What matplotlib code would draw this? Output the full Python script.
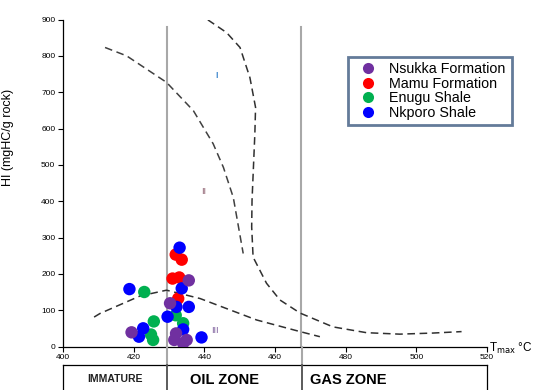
import matplotlib
matplotlib.use("Agg")
import matplotlib.pyplot as plt
from matplotlib.lines import Line2D

plt.rcParams['font.family'] = ['Liberation Sans', 'DejaVu Sans']

# ---- data ----
nsukka_t = [435.6, 430.3, 419.4, 432.0, 431.5, 435.0, 434.0]
nsukka_hi = [182, 119, 39, 36, 18, 18, 9]
mamu_t = [431.9, 433.6, 431.0, 432.9, 432.6]
mamu_hi = [253, 239, 187, 190, 132]
enugu_t = [423.0, 431.9, 425.7, 434.0, 424.9, 425.5]
enugu_hi = [150, 86, 69, 64, 33, 18]
nkporo_t = [433.0, 418.8, 433.6, 432.1, 435.6, 429.6, 434.0, 422.7, 421.5, 439.2]
nkporo_hi = [272, 158, 160, 109, 109, 82, 47, 50, 27, 25]

curve1_t = [441.0, 446.3, 450.1, 452.9, 454.5, 454.3, 453.5, 453.4, 453.8, 457.6,
            461.4, 467.1, 476.4, 485.9, 495.3, 504.7, 512.8]
curve1_hi = [899, 864, 823, 740, 658, 586, 402, 329, 246, 174,
             128, 92, 54, 38, 34, 37, 41]
curve2_t = [411.9, 418.0, 429.3, 436.9, 442.5, 445.4, 448.2, 451.0]
curve2_hi = [823, 800, 727, 649, 558, 493, 410, 256]
curve3_t = [408.8, 410.5, 421.8, 429.3, 438.8, 454.8, 467.1, 472.7]
curve3_hi = [81, 91, 139, 155, 132, 73, 41, 27]

zone_bounds = [429.5, 467.5]
zone_labels = ['IMMATURE', 'OIL ZONE', 'GAS ZONE']
xticks = [400, 420, 440, 460, 480, 500, 520]
yticks = [0, 100, 200, 300, 400, 500, 600, 700, 800, 900]

W, H = 533, 390
fig = plt.figure(figsize=(W / 100, H / 100), dpi=100)
ax = fig.add_axes([63 / W, 43.5 / H, 424 / W, 327 / H])
ax.set_xlim(400, 520)
ax.set_ylim(0, 900)
for s in ['top', 'right']:
    ax.spines[s].set_visible(False)
for s in ['left', 'bottom']:
    ax.spines[s].set_linewidth(0.9)
ax.set_xticks(xticks)
ax.set_yticks(yticks)
ax.tick_params(labelsize=6, length=3.5, width=0.8, direction='out', pad=2)

# zone vertical lines
for b in zone_bounds:
    ax.plot([b, b], [0, 880], color='#a8a8a8', lw=1.5, zorder=1)

ds = (0, (5, 3))
ax.plot(curve1_t, curve1_hi, color='#303030', lw=1.1, ls=ds, zorder=2)
ax.plot(curve2_t, curve2_hi, color='#404040', lw=1.1, ls=ds, zorder=2)
ax.plot(curve3_t, curve3_hi, color='#303030', lw=1.1, ls=ds, zorder=2)

ax.text(443.6, 745, 'I', color='#4a8fd0', fontsize=6.5, weight='bold', ha='center', va='center')
ax.text(439.9, 426, 'II', color='#8a5a6a', fontsize=6.5, ha='center', va='center')
ax.text(443.0, 45, 'III', color='#7a5a9a', fontsize=6.5, ha='center', va='center')

ms = 80
c_purple, c_red, c_green, c_blue = '#7030a0', '#ff0000', '#00b050', '#0000ff'
ax.scatter(enugu_t, enugu_hi, s=ms, color=c_green, edgecolors='none', zorder=3)
ax.scatter(mamu_t, mamu_hi, s=ms, color=c_red, edgecolors='none', zorder=3)
ax.scatter(nkporo_t, nkporo_hi, s=ms, color=c_blue, edgecolors='none', zorder=3)
ax.scatter(nsukka_t, nsukka_hi, s=ms, color=c_purple, edgecolors='none', zorder=3)

handles = [Line2D([], [], ls='none', marker='o', ms=8, color=c, mec='none')
           for c in [c_purple, c_red, c_green, c_blue]]
names = ['Nsukka Formation', 'Mamu Formation', 'Enugu Shale', 'Nkporo Shale']
leg = fig.legend(handles, names, loc='upper left', bbox_to_anchor=(348 / W, 1 - 56.5 / H),
                 fontsize=10.3, frameon=True, fancybox=False, labelspacing=0.03,
                 handletextpad=0.5, borderpad=0.4, handlelength=2.0, borderaxespad=0)
leg.get_frame().set_edgecolor('#3d5a80')
leg.get_frame().set_linewidth(2)

ax.set_ylabel('HI (mgHC/g rock)', fontsize=9)
ax.yaxis.set_label_coords(-0.115, 0.64)
fig.text(489 / W, 1 - 348 / H, r'T$_{\mathrm{max}}$ °C', fontsize=8.5, va='center', ha='left')

# zone boxes below axis
def fx(x):
    return (63 + (x - 400) / 120 * 424) / W

ytop = 1 - 365 / H
fig.add_artist(Line2D([fx(400), fx(520)], [ytop, ytop], color='black', lw=0.9))
for x in [400, 520]:
    fig.add_artist(Line2D([fx(x), fx(x)], [0, ytop], color='black', lw=0.9))
for b in zone_bounds:
    fig.add_artist(Line2D([fx(b), fx(b)], [ytop, 1 - 347 / H], color='#a8a8a8', lw=1.5))
    fig.add_artist(Line2D([fx(b), fx(b)], [0, ytop], color='#404040', lw=1.2))
fig.text(115 / W, 1 - 379 / H, zone_labels[0], fontsize=7.5, weight='bold',
         ha='center', va='center', color='#202020')
fig.text(190 / W, 1 - 380 / H, zone_labels[1], fontsize=10.5, weight='bold',
         ha='left', va='center')
fig.text(310 / W, 1 - 380 / H, zone_labels[2], fontsize=10.5, weight='bold',
         ha='left', va='center')

fig.savefig('out.png', dpi=100)
